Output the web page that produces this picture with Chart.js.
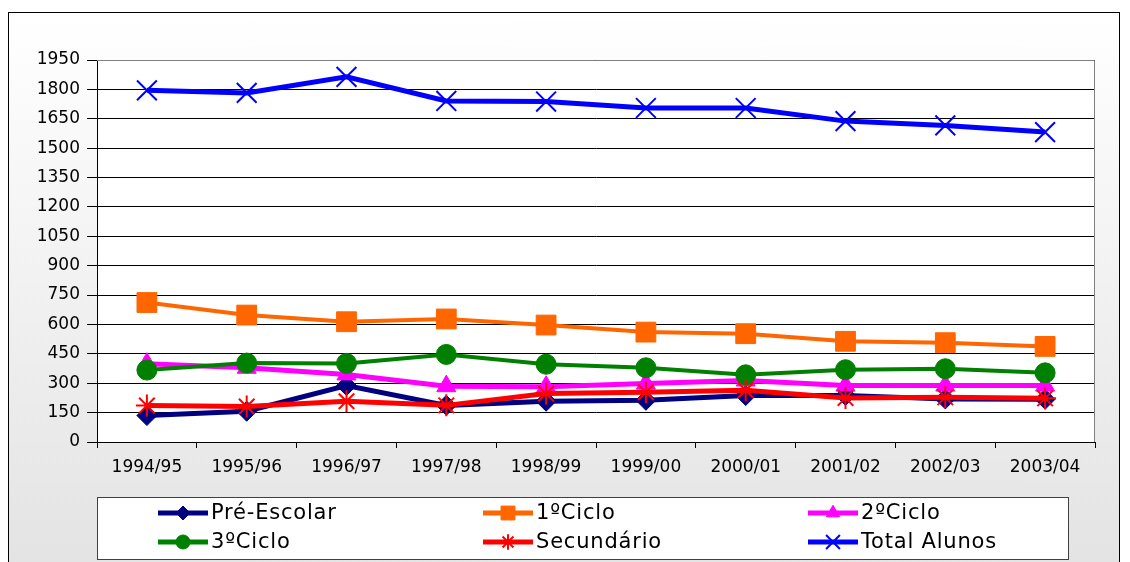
<!DOCTYPE html>
<html>
<head>
<meta charset="utf-8">
<script src="https://cdn.jsdelivr.net/npm/chart.js@4.4.1/dist/chart.umd.min.js"></script>
<style>
  html, body { margin: 0; padding: 0; background: #fff; overflow: hidden; }
  #frame {
    position: absolute; left: 8px; top: 12px; width: 1110px; height: 580px;
    border: 1px solid #000;
    background: linear-gradient(to bottom, #ffffff 0%, #e2e2e2 100%);
  }
  #chart { position: absolute; left: 0; top: 0; }
</style>
</head>
<body>
<div id="frame"></div>
<canvas id="chart" width="1130" height="562"></canvas>
<script>
var anos = ['1994/95', '1995/96', '1996/97', '1997/98', '1998/99', '1999/00', '2000/01', '2001/02', '2002/03', '2003/04'];

var preEscolar    = [135, 157, 288, 187, 208, 213, 237, 238, 220, 218];
var primeiroCiclo = [712, 648, 614, 628, 597, 561, 553, 514, 507, 488];
var segundoCiclo  = [400, 379, 345, 285, 282, 298, 314, 288, 288, 288];
var terceiroCiclo = [367, 403, 401, 447, 397, 379, 343, 369, 374, 353];
var secundario    = [186, 181, 208, 187, 247, 254, 264, 225, 228, 223];
var totalAlunos   = [1795, 1782, 1864, 1741, 1738, 1705, 1705, 1638, 1616, 1582];

var yMax = 1950;
var yStep = 150;

function serie(label, data, color, style, radius, lineW, ptBorder, order) {
  return {
    label: label,
    data: data,
    borderColor: color,
    backgroundColor: color,
    borderWidth: lineW,
    pointStyle: style,
    pointRadius: radius,
    pointBorderWidth: ptBorder,
    pointBackgroundColor: color,
    pointBorderColor: color,
    tension: 0,
    order: order
  };
}

// white plot area + grey frame round it
var plotBox = {
  id: 'plotBox',
  beforeDraw: function (chart) {
    var a = chart.chartArea, ctx = chart.ctx;
    ctx.save();
    ctx.fillStyle = '#fff';
    ctx.fillRect(a.left, a.top, a.right - a.left, a.bottom - a.top);
    ctx.restore();
  },
  beforeDatasetsDraw: function (chart) {
    var a = chart.chartArea, ctx = chart.ctx;
    ctx.save();
    ctx.strokeStyle = '#808080';
    ctx.lineWidth = 1;
    ctx.beginPath();
    ctx.moveTo(a.left, a.top + 0.5);
    ctx.lineTo(a.right - 0.5, a.top + 0.5);
    ctx.lineTo(a.right - 0.5, a.bottom);
    ctx.stroke();
    ctx.restore();
  }
};

// three column legend in a box under the chart
var legendCols = [158, 483, 808];
var legendRows = [513, 542];
var legendBox = {
  id: 'legendBox',
  afterDraw: function (chart) {
    var ctx = chart.ctx;
    ctx.save();
    ctx.fillStyle = '#fff';
    ctx.fillRect(97, 497, 971, 62);
    ctx.strokeStyle = '#404040';
    ctx.lineWidth = 1;
    ctx.strokeRect(97.5, 497.5, 971, 62);
    chart.data.datasets.forEach(function (ds, i) {
      var x = legendCols[i % 3];
      var y = legendRows[Math.floor(i / 3)];
      ctx.strokeStyle = ds.borderColor;
      ctx.fillStyle = ds.borderColor;
      ctx.lineWidth = 5;
      ctx.beginPath();
      ctx.moveTo(x, y);
      ctx.lineTo(x + 50, y);
      ctx.stroke();
      ctx.lineWidth = ds.pointBorderWidth;
      Chart.helpers.drawPoint(ctx, {
        pointStyle: ds.pointStyle,
        radius: ds.pointRadius * 0.7,
        borderWidth: ds.pointBorderWidth,
        rotation: 0
      }, x + 25, y);
      ctx.fillStyle = '#000';
      ctx.font = '21px "DejaVu Sans"';
      ctx.letterSpacing = '0.8px';
      ctx.textBaseline = 'middle';
      ctx.textAlign = 'left';
      ctx.fillText(ds.label, x + 53, y + 1);
      ctx.letterSpacing = '0px';
    });
    ctx.restore();
  }
};

new Chart(document.getElementById('chart'), {
  type: 'line',
  data: {
    labels: anos,
    datasets: [
      serie('Pré-Escolar', preEscolar, '#000080', 'rectRot', 10, 5, 1, 6),
      serie('1ºCiclo', primeiroCiclo, '#ff6600', 'rect', 14, 4, 1, 5),
      serie('2ºCiclo', segundoCiclo, '#ff00ff', 'triangle', 11, 5, 1, 4),
      serie('3ºCiclo', terceiroCiclo, '#008000', 'circle', 10, 4, 1, 3),
      serie('Secundário', secundario, '#ff0000', 'star', 11, 5, 2, 2),
      serie('Total Alunos', totalAlunos, '#0000ff', 'crossRot', 14, 5, 2, 1)
    ]
  },
  options: {
    responsive: false,
    animation: false,
    events: [],
    layout: { padding: { top: 60, right: 35, left: 0, bottom: 0 } },
    plugins: {
      legend: { display: false },
      tooltip: { enabled: false }
    },
    scales: {
      x: {
        offset: true,
        grid: { offset: true, drawOnChartArea: false, tickLength: 6, color: '#000' },
        border: { color: '#000' },
        ticks: {
          color: '#000',
          font: { family: 'DejaVu Sans', size: 17 },
          padding: 9,
          maxRotation: 0,
          autoSkip: false
        },
        afterFit: function (s) { s.height = 120; }
      },
      y: {
        min: 0,
        max: yMax,
        grid: { color: '#000', tickLength: 10 },
        border: { color: '#000' },
        ticks: {
          stepSize: yStep,
          color: '#000',
          font: { family: 'DejaVu Sans', size: 17 },
          padding: 7,
          callback: function (v) { return String(v); }
        },
        afterFit: function (s) { s.width = 97; }
      }
    }
  },
  plugins: [plotBox, legendBox]
});
</script>
</body>
</html>
